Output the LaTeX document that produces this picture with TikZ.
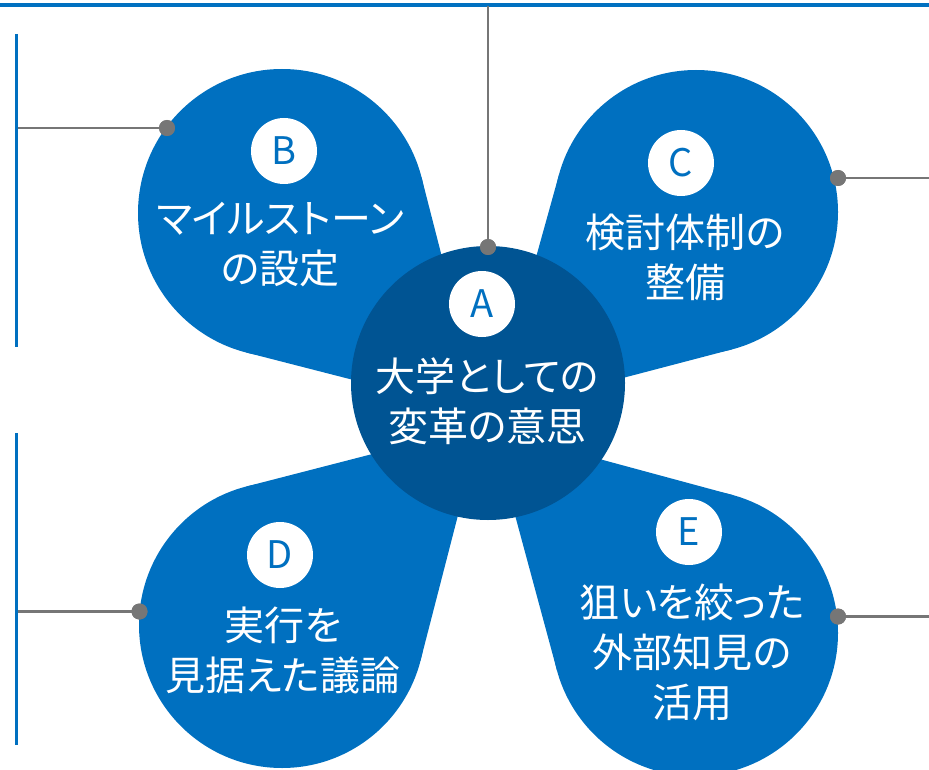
\documentclass[tikz,border=0pt]{standalone}
\usepackage{fontspec}
\newfontfamily\jp[RawFeature=+palt]{Noto Sans CJK JP}
\usetikzlibrary{calc}
\definecolor{petalblue}{HTML}{0070C0}
\definecolor{coreblue}{HTML}{005493}
\definecolor{linegray}{HTML}{767676}
\begin{document}
\begin{tikzpicture}[x=1pt,y=-1pt,
  bulb/.style={circle,fill=petalblue,inner sep=0pt,outer sep=0pt,minimum size=#1},
  corecircle/.style={circle,fill=coreblue,inner sep=0pt,outer sep=0pt,minimum size=274pt},
  letterbadge/.style={circle,fill=white,text=petalblue,inner sep=0pt,outer sep=0pt,minimum size=66pt,font=\jp\fontsize{38}{38}\selectfont},
  petaltext/.style={text=white,align=center,inner sep=0pt,font=\jp\fontsize{40}{50}\selectfont},
  dotnode/.style={circle,fill=linegray,inner sep=0pt,outer sep=0pt,minimum size=16pt},
  blueline/.style={draw=petalblue,line width=3.4pt},
  grayline/.style={draw=linegray,line width=2.5pt}
]
\useasboundingbox (0,0) rectangle (929,770);

% petals
\node[bulb=288pt] (Bb) at (282,213) {};
\coordinate (Bt) at (482,413);
\fill[petalblue] (Bt) -- (tangent cs:node=Bb,point={(Bt)},solution=1) -- (Bb.center) -- (tangent cs:node=Bb,point={(Bt)},solution=2) -- cycle;

\node[bulb=284pt] (Cb) at (696,212) {};
\coordinate (Ct) at (493,412);
\fill[petalblue] (Ct) -- (tangent cs:node=Cb,point={(Ct)},solution=1) -- (Cb.center) -- (tangent cs:node=Cb,point={(Ct)},solution=2) -- cycle;

\node[bulb=286pt] (Db) at (282,625) {};
\coordinate (Dt) at (481,426);
\fill[petalblue] (Dt) -- (tangent cs:node=Db,point={(Dt)},solution=1) -- (Db.center) -- (tangent cs:node=Db,point={(Dt)},solution=2) -- cycle;

\node[bulb=286pt] (Eb) at (695,633) {};
\coordinate (Et) at (492,430);
\fill[petalblue] (Et) -- (tangent cs:node=Eb,point={(Et)},solution=1) -- (Eb.center) -- (tangent cs:node=Eb,point={(Et)},solution=2) -- cycle;

% core
\node[corecircle] (core) at (488,383) {};

% frame lines
\coordinate (topL) at (0,5);
\coordinate (topR) at (929,5);
\draw[blueline] (topL) -- (topR);
\coordinate (L1t) at (16.5,34);
\coordinate (L1b) at (16.5,347);
\coordinate (L2t) at (16.5,433);
\coordinate (L2b) at (16.5,745);
\draw[blueline] (L1t) -- (L1b);
\draw[blueline] (L2t) -- (L2b);

% connectors
\node[dotnode] (dA) at (488,247) {};
\node[dotnode] (dB) at (167,128) {};
\node[dotnode] (dC) at (838,178) {};
\node[dotnode] (dD) at (139.5,611.5) {};
\node[dotnode] (dE) at (838,616.5) {};
\coordinate (cA) at (488,6.5);
\coordinate (cB) at (18,128);
\coordinate (cC) at (929,178);
\coordinate (cD) at (18,611.5);
\coordinate (cE) at (929,616.5);
\draw[grayline] (cA) -- (dA.center);
\draw[grayline] (cB) -- (dB.center);
\draw[grayline] (cC) -- (dC.center);
\draw[grayline] (cD) -- (dD.center);
\draw[grayline] (cE) -- (dE.center);
\node[dotnode] at (dA) {};
\node[dotnode] at (dB) {};
\node[dotnode] at (dC) {};
\node[dotnode] at (dD) {};
\node[dotnode] at (dE) {};

% badges
\node[letterbadge] (lA) at (482,304) {A};
\node[letterbadge] (lB) at (284,151) {B};
\node[letterbadge] (lC) at (681,163) {C};
\node[letterbadge] (lD) at (280,555) {D};
\node[letterbadge] (lE) at (689,532) {E};

% texts
\node[petaltext] (tA) at (487.5,401.5) {大学としての\\変革の意思};
\node[petaltext] (tB) at (280.5,245) {マイルストーン\\の設定};
\node[petaltext] (tC) at (685,257) {検討体制の\\整備};
\node[petaltext] (tD) at (283,650) {実行を\\見据えた議論};
\node[petaltext] (tE) at (692,652.5) {狙いを絞った\\外部知見の\\活用};
\end{tikzpicture}
\end{document}
